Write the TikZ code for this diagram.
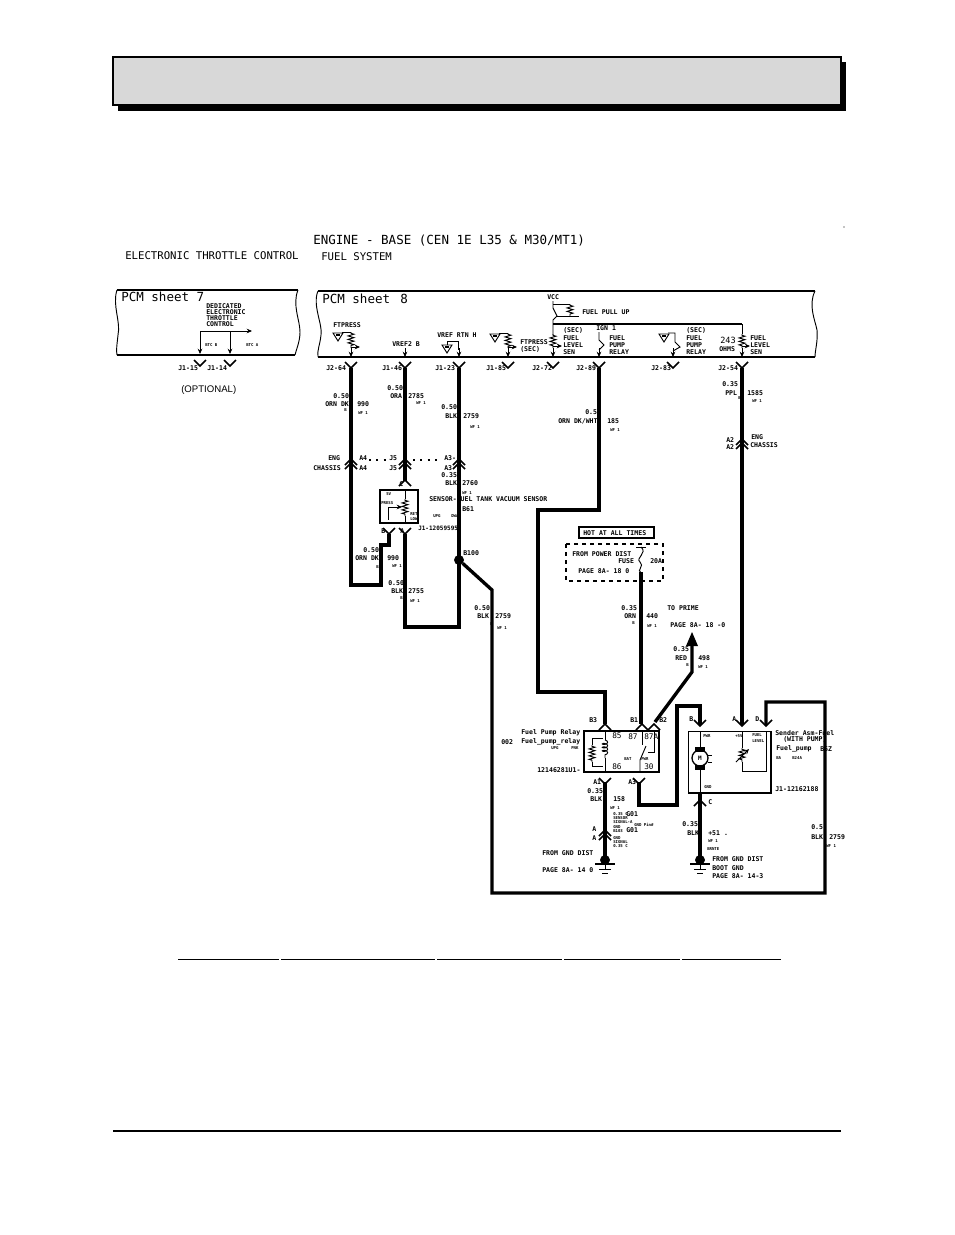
\documentclass[tikz,border=0pt]{standalone}
\usepackage{fontspec}
\newfontfamily\plotfont{DejaVu Sans Mono}
\newfontfamily\plainfont{Liberation Sans}
\definecolor{HeaderFill}{RGB}{216,216,216}
\usetikzlibrary{
  positioning,
  arrows.meta,
  decorations.pathmorphing
}
\tikzset{
  % Wires
  wire/.style={draw=black, line width=2.5pt, line join=miter},
  thinwire/.style={draw=black, line width=0.7pt},
  midwire/.style={draw=black, line width=1.1pt},
  arrowwire/.style={thinwire, -{Stealth[length=4pt,width=3.5pt]}},
  % Resistor
  resistor/.style={thinwire, decorate, decoration={zigzag, amplitude=2.2pt, segment length=2.6pt, pre length=1pt, post length=1pt}},
  coilwire/.style={thinwire, decorate, decoration={coil, amplitude=2pt, segment length=2.6pt, aspect=0.5}},
  % Splice and ground
  splice/.style={circle, fill=black, draw=black, minimum size=7pt, inner sep=0pt},
  % Text
  bigtext/.style={font=\plotfont\fontsize{9.4}{10}\selectfont, anchor=west, inner sep=0pt},
  midtext/.style={font=\plotfont\fontsize{8}{9}\selectfont, anchor=west, inner sep=0pt},
  pintext/.style={font=\plotfont\fontsize{5.8}{6.5}\selectfont, anchor=west, inner sep=0pt},
  smalltext/.style={font=\plotfont\bfseries\fontsize{4.9}{5.5}\selectfont, anchor=west, inner sep=0pt},
  tinytext/.style={font=\plotfont\bfseries\fontsize{3}{3.5}\selectfont, anchor=west, inner sep=0pt},
  % Terminals
  pinv/.pic={\draw[midwire] (-6,-6) -- (0,0) -- (6,-6);},
  pina/.pic={\draw[midwire] (-6,6) -- (0,0) -- (6,6);},
  pindouble/.pic={\draw[midwire] (-6,4) -- (0,-2) -- (6,4); \draw[midwire] (-6,8) -- (0,2) -- (6,8);},
  gndmark/.pic={\draw[midwire] (-10,0) -- (10,0); \draw[thinwire] (0,0) -- (0,5); \draw[thinwire] (-6,5) -- (6,5); \draw[thinwire] (-3,9) -- (3,9);},
  sigtri/.pic={\draw[thinwire, fill=white] (-5,0) -- (5,0) -- (0,8) -- cycle; \fill (-2,1) rectangle (2,3);}
}
\begin{document}
\begin{tikzpicture}[x=0.75pt, y=-0.75pt]
  \useasboundingbox (0,0) rectangle (954,1235);
  % Header bar
  \fill[black] (118,62) rectangle (846,111);
  \draw[draw=black, fill=HeaderFill, line width=1pt] (113,57) rectangle (841,105);
  % Footer and table rules
  \draw[line width=1.3pt] (113,1131) -- (841,1131);
  \foreach \a/\b in {178/279, 281/435, 437/562, 564/680, 682/781} {
    \draw[line width=0.7pt] (\a,959) -- (\b,959);
  }
  \fill (844,227) circle (0.5pt);
  % Titles
  \node[bigtext] (titleengine) at (313,241) {ENGINE - BASE (CEN 1E L35 \& M30/MT1)};
  \node[midtext] (titlethrottle) at (125,256) {ELECTRONIC THROTTLE CONTROL};
  \node[midtext] (titlefuel) at (321,257) {FUEL SYSTEM};
  % Sheet 7 frame
  \draw[midwire] (117,290) -- (298,290);
  \draw[midwire] (117,355) -- (295,355);
  \draw[thinwire] (117,290) .. controls (112,305) and (121,322) .. (118,335) .. controls (117,345) and (116,350) .. (117,355);
  \draw[thinwire] (298,290) .. controls (292,305) and (300,320) .. (300,332) .. controls (300,342) and (296,350) .. (295,355);
  \node[bigtext] (sheetseven) at (121,297) {PCM sheet 7};
  \foreach \y/\t [count=\n] in {306/DEDICATED, 312/ELECTRONIC, 318/THROTTLE, 324/CONTROL} {
    \node[smalltext] (btc\n) at (206,\y) {\t};
  }
  \draw[arrowwire] (200,331) -- (252,331);
  \draw[arrowwire] (200,331) -- (200,354);
  \draw[arrowwire] (230,331) -- (230,354);
  \node[tinytext] (btcb) at (205,345) {BTC B};
  \node[tinytext] (btca) at (246,345) {BTC A};
  \pic at (200,366) {pinv};
  \pic at (230,366) {pinv};
  \node[smalltext] (pinfifteen) at (178,368) {J1-15};
  \node[smalltext] (pinfourteen) at (207,368) {J1-14};
  \node[font=\plainfont\fontsize{7.2}{8}\selectfont, anchor=west, inner sep=0pt] (optional) at (181,390) {(OPTIONAL)};
  % Sheet 8 frame
  \draw[midwire] (318,291) -- (815,291);
  \draw[midwire] (318,357) -- (815,357);
  \draw[thinwire] (318,291) .. controls (312,305) and (323,325) .. (321,335) .. controls (320,345) and (317,350) .. (318,357);
  \draw[thinwire] (815,291) .. controls (808,305) and (815,320) .. (817,330) .. controls (818,342) and (815,350) .. (815,357);
  \node[bigtext] (sheeteight) at (322,299) {PCM sheet\hspace{2pt} 8};
  % Terminals under sheet 8
  \foreach \n/\x/\t/\tx in {ja/351/J2-64/326, jb/405/J1-46/382, jc/459/J1-23/435, jd/508/J1-85/486, je/553/J2-72/532, jf/599/J2-89/576, jg/673/J2-83/651, jh/742/J2-54/718} {
    \coordinate (\n) at (\x,368);
    \pic at (\n) {pinv};
    \node[smalltext] (lab\n) at (\tx,368) {\t};
    \draw[arrowwire] (\x,348) -- (\x,357);
  }
  % Inside sheet 8: sensors and drivers
  \node[smalltext] (ftpress) at (333,325) {FTPRESS};
  \pic at (338,333) {sigtri};
  \draw[thinwire] (342,332) -- (351,332);
  \draw[resistor] (351,332) -- (351,348);
  \draw[arrowwire] (351,347) -- (360,347);
  \node[smalltext] (vreftwo) at (392,344) {VREF2 B};
  \node[smalltext] (vrefrtn) at (437,335) {VREF RTN H};
  \pic at (447,345) {sigtri};
  \draw[thinwire] (447,345) -- (447,341) -- (458,341) -- (458,350);
  \pic at (495,334) {sigtri};
  \draw[thinwire] (499,333) -- (508,333);
  \draw[resistor] (508,333) -- (508,348);
  \draw[arrowwire] (508,347) -- (517,347);
  \node[smalltext] (ftpresssec) at (520,342) {FTPRESS};
  \node[smalltext] (ftpressec) at (520,349) {(SEC)};
  \node[smalltext] (vcc) at (547,297) {VCC};
  \draw[thinwire] (553,301) -- (553,308) -- (557,316) -- (553,320) -- (553,335);
  \draw[thinwire] (553,304) -- (570,304);
  \draw[resistor] (570,304) -- (570,316);
  \draw[thinwire] (557,316) -- (579,316);
  \node[smalltext] (pullup) at (582,312) {FUEL PULL UP};
  \draw[midwire] (553,324) -- (742,324);
  \draw[resistor] (553,334) -- (553,348);
  \draw[arrowwire] (553,346) -- (562,346);
  \draw[resistor] (742,334) -- (742,348);
  \draw[arrowwire] (742,346) -- (750,346);
  \draw[thinwire] (742,324) -- (742,334);
  \node[smalltext] (ignone) at (596,328) {IGN 1};
  \draw[thinwire] (599,332) -- (599,340) -- (604,345) -- (599,350);
  \pic at (664,334) {sigtri};
  \draw[thinwire] (668,333) -- (675,333) -- (675,342) -- (680,347) -- (673,351);
  \foreach \x/\y/\t [count=\n] in {563/330/(SEC), 563/338/FUEL, 563/345/LEVEL, 563/352/SEN, 609/338/FUEL, 609/345/PUMP, 609/352/RELAY, 686/330/(SEC), 686/338/FUEL, 686/345/PUMP, 686/352/RELAY, 750/338/FUEL, 750/345/LEVEL, 750/352/SEN} {
    \node[smalltext] (pcmlab\n) at (\x,\y) {\t};
  }
  \node[pintext, font=\plotfont\fontsize{6.4}{7}\selectfont] (ohmsval) at (720,340) {243};
  \node[smalltext] (ohmsunit) at (719,349) {OHMS};
  % Wire corner points
  \foreach \n/\x/\y in {ca/351/585, cb/381/585, cc/381/545, cd/389/545, ce/405/627, cf/459/627, cg/492/590, ch/492/893, ci/825/893, cj/825/702, ck/766/702, cl/599/510, cm/538/510, cn/538/692, co/605/692, cp/692/672, cq/655/722, cr/639/805, cs/677/805, ct/677/706, cu/700/706, cv/405/481, cw/459/560, cx/692/632} {
    \coordinate (\n) at (\x,\y);
  }
  % Main wires
  \draw[wire] (ja) -- (ca) -- (cb) -- (cc) -- (cd) -- (389,534);
  \draw[wire] (jb) -- (cv);
  \draw[wire] (405,534) -- (ce) -- (cf) -- (jc);
  \node[splice] (splicea) at (cw) {};
  \draw[wire] (splicea) -- (cg) -- (ch) -- (ci) -- (cj) -- (ck) -- (766,725);
  \draw[wire] (jf) -- (cl) -- (cm) -- (cn) -- (co) -- (605,724);
  \draw[wire] (641,572) -- (641,724);
  \draw[wire] (692,645) -- (cp) -- (cq);
  \fill[black] (cx) -- (686,646) -- (698,646) -- cycle;
  \draw[wire] (jh) -- (742,725);
  \draw[wire] (639,782) -- (cr) -- (cs) -- (ct) -- (cu) -- (700,725);
  \draw[wire] (605,782) -- (605,860);
  \draw[wire] (700,793) -- (700,860);
  % Connector row
  \foreach \n/\x/\y in {cona/351/461, conb/405/461, conc/459/461, cond/742/441, cone/605/832, conf/700/800} {
    \coordinate (\n) at (\x,\y);
  }
  \foreach \n in {cona, conb, conc, cond, cone} {
    \pic at (\n) {pindouble};
  }
  \pic at (conf) {pina};
  \draw[thinwire, dash pattern=on 1.5pt off 4pt, line width=0.9pt] (369,460) -- (386,460);
  \draw[thinwire, dash pattern=on 1.5pt off 4pt, line width=0.9pt] (413,460) -- (440,460);
  % Sensor box
  \draw[midwire] (380,490) rectangle (418,523);
  \draw[resistor] (405,499) -- (405,516);
  \draw[thinwire] (405,490) -- (405,499);
  \draw[thinwire] (405,516) -- (405,523);
  \draw[arrowwire] (388,507) -- (402,507);
  \draw[thinwire] (388,507) -- (388,520);
  \pic at (405,480) {pina};
  \pic at (389,534) {pinv};
  \pic at (405,534) {pinv};
  % Relay
  \draw[midwire] (584,731) rectangle (659,772);
  \draw[thinwire] (605,731) -- (605,740);
  \draw[coilwire] (605,740) -- (605,758);
  \draw[thinwire] (605,758) -- (605,772);
  \draw[thinwire] (603,738) -- (592,738) -- (592,745);
  \draw[resistor] (592,745) -- (592,762);
  \draw[thinwire] (592,762) -- (592,766) -- (603,766);
  \draw[thinwire] (640,772) -- (640,760) -- (646,746);
  \draw[thinwire] (642,731) -- (642,745);
  \draw[thinwire] (654,731) -- (654,752) -- (648,752);
  \pic at (605,724) {pina};
  \pic at (642,724) {pina};
  \pic at (654,724) {pina};
  \pic at (605,784) {pinv};
  \pic at (639,784) {pinv};
  % Sender
  \draw[thinwire] (688,731) -- (688,793);
  \draw[thinwire] (688,731) -- (771,731);
  \draw[wire, line width=1.5pt] (771,731) -- (771,793) -- (688,793);
  \draw[thinwire] (700,731) -- (700,793);
  \node[circle, draw=black, fill=white, line width=1pt, minimum size=12pt, inner sep=0pt, font=\plotfont\bfseries\fontsize{4.5}{5}\selectfont] (motor) at (700,758) {M};
  \fill[black] (695,747) rectangle (705,752);
  \fill[black] (695,765) rectangle (705,770);
  \draw[thinwire, dashed] (708,755) -- (716,755);
  \draw[thinwire, dashed] (708,762) -- (716,762);
  \pic at (700,726) {pinv};
  \pic at (742,726) {pinv};
  \pic at (766,726) {pinv};
  \draw[thinwire] (742,731) -- (742,748);
  \draw[resistor] (742,748) -- (742,762);
  \draw[arrowwire] (736,762) -- (749,749);
  \draw[thinwire] (742,762) -- (742,771) -- (766,771) -- (766,731);
  % Fuse panel
  \draw[draw=black, line width=1.5pt] (579,527) rectangle (654,538);
  \node[smalltext] (hotall) at (583,533) {HOT AT ALL TIMES};
  \draw[thinwire, dashed, line width=0.8pt] (566,544) rectangle (663,581);
  \draw[thinwire] (636,547) -- (646,547);
  \draw[thinwire] (641,547) .. controls (648,553) and (635,558) .. (640,562) .. controls (645,566) and (636,570) .. (641,573);
  % Grounds
  \node[splice] (splicegndl) at (605,860) {};
  \pic at (605,864) {gndmark};
  \node[splice] (splicegndr) at (700,860) {};
  \pic at (700,864) {gndmark};
  % Wire and pin labels
  \foreach \x/\y/\t [count=\n] in {
    333/396/0.50, 325/404/ORN DK, 357/404/990,
    387/388/0.50, 390/396/ORA, 408/396/2785,
    441/407/0.50, 445/416/BLK, 463/416/2759,
    585/412/0.5, 558/421/{ORN DK/WHT}, 607/421/185,
    722/384/0.35, 725/393/PPL, 747/393/1585,
    726/440/A2, 726/447/A2, 751/437/ENG, 750/445/CHASSIS,
    328/458/ENG, 313/468/CHASSIS, 359/458/A4, 359/468/A4,
    389/458/J5, 389/468/J5, 444/458/A3-, 444/468/A3,
    441/475/0.35, 445/483/BLK, 462/483/2760,
    429/499/SENSOR-FUEL TANK VACUUM SENSOR, 462/509/B61,
    399/484/C, 381/531/B, 400/531/A,
    363/550/0.50, 355/558/ORN DK, 387/558/990,
    388/583/0.50, 391/591/BLK, 408/591/2755,
    463/553/B100,
    474/608/0.50, 477/616/BLK, 495/616/2759,
    621/608/0.35, 624/616/ORN, 646/616/440,
    667/608/TO PRIME, 670/625/PAGE 8A- 18 -0,
    673/649/0.35, 675/658/RED, 698/658/498,
    572/554/FROM POWER DIST, 618/561/FUSE, 650/561/20A, 578/571/PAGE 8A- 18 0,
    589/720/B3, 630/720/B1, 659/720/B2,
    521/733/Fuel Pump Relay, 521/742/Fuel\_pump\_relay, 501/742/002, 537/770/12146281U1-,
    593/782/A1, 628/782/A3,
    587/791/0.35, 590/799/BLK, 613/799/158,
    592/829/A, 592/838/A,
    542/853/FROM GND DIST, 542/870/PAGE 8A- 14 0,
    689/719/B, 732/719/A, 755/719/D, 708/802/C,
    775/733/Sender Asm-Fuel, 783/739/(WITH PUMP), 776/749/Fuel\_pump, 820/749/B6Z, 775/789/J1-12162188,
    682/824/0.35, 687/833/BLK, 708/833/+51 .,
    712/859/FROM GND DIST, 712/868/BOOT GND, 712/876/PAGE 8A- 14-3,
    811/827/0.5, 811/837/BLK, 829/837/2759,
    626/814/G01, 626/830/G01
  } {
    \node[smalltext] (lab\n) at (\x,\y) {\t};
  }
  \node[smalltext, font=\plotfont\bfseries\fontsize{4.5}{5}\selectfont] (sensorpart) at (418,528) {J1-12059595};
  % Relay pin numbers
  \foreach \x/\y/\t [count=\n] in {612/736/85, 628/737/87, 644/737/87A, 612/767/86, 644/767/30} {
    \node[pintext] (relaypin\n) at (\x,\y) {\t};
  }
  % Smallest marks
  \foreach \x/\y/\t [count=\n] in {
    358/413/WF 1, 344/410/B, 416/403/WF 1, 404/403/B, 470/427/WF 1, 458/423/B,
    610/430/WF 1, 597/428/B, 752/401/WF 1, 738/398/B,
    462/493/WF 1, 376/567/B, 392/566/WF 1, 400/598/B, 410/601/WF 1, 490/624/B, 497/628/WF 1,
    632/623/B, 647/626/WF 1, 686/665/B, 698/667/WF 1,
    433/516/UPG, 451/516/DWA, 386/494/5V, 381/503/PRESS, 410/514/RET, 410/519/LOW,
    551/748/UPG, 571/748/PNK, 624/759/BAT, 641/759/PWR,
    703/736/PWR, 704/787/GND, 735/736/+5V, 752/735/FUEL, 752/741/LEVEL,
    776/758/BA, 792/758/B24A, 708/841/WF 1, 707/849/BRNTE, 826/846/WF 1,
    610/808/WF 1, 613/814/0.35 C, 613/818/SENSOR, 613/822/SIGNAL-A, 613/827/GND, 613/831/B103,
    613/838/GND, 613/842/SIGNAL, 613/846/0.35 C, 634/825/GND Pin\#
  } {
    \node[tinytext] (tinylab\n) at (\x,\y) {\t};
  }
\end{tikzpicture}
\end{document}
